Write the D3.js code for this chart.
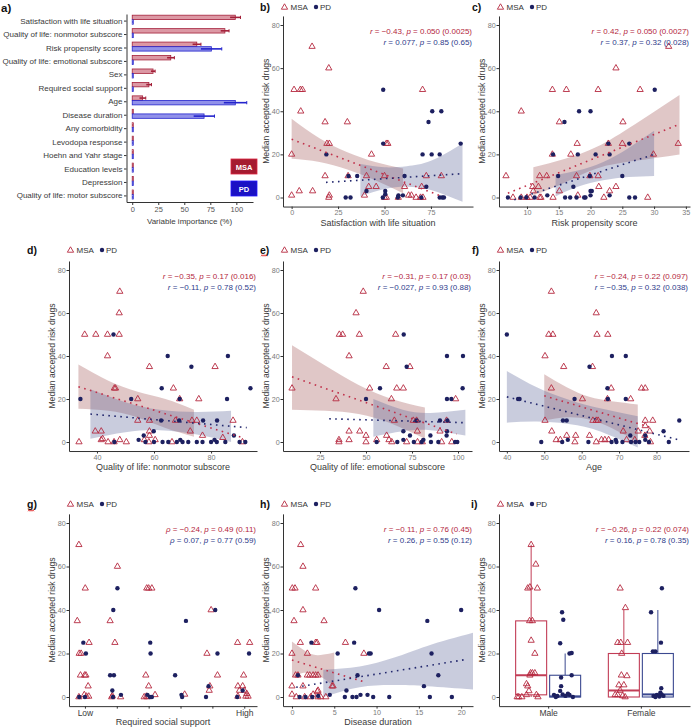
<!DOCTYPE html>
<html lang="en">
<head>
<meta charset="UTF-8">
<title>Accepted risk drugs: MSA vs PD</title>
<script src="https://cdn.jsdelivr.net/npm/d3@7"></script>
<style>
  body { margin: 0; background: #fff; }
  svg { display: block; font-family: 'Liberation Sans', Arial, sans-serif; }
  .axis .domain, .axis .tick line { stroke: #333; stroke-width: 1; }
  .axis .tick text { fill: #7a7a7a; font-size: 7.2px; }
  .axis.cat .tick text { fill: #3a3a3a; font-size: 8.5px; }
  .axis.imp .tick text { fill: #3a3a3a; font-size: 8px; }
  .xtitle, .ytitle { fill: #3a3a3a; font-size: 9px; }
  .ytitle { font-size: 8.6px; }
  .legend text { fill: #333; font-size: 8px; }
  .plabel { font-weight: bold; font-size: 10.5px; fill: #111; }
  .stat { font-size: 8px; }
</style>
</head>
<body>
<svg id="fig" width="691" height="728"></svg>
<script>
// ---- a) variable importance ----
const impVars = ['Satisfaction with life situation', 'Quality of life: nonmotor subscore', 'Risk propensity score',
  'Quality of life: emotional subscore', 'Sex', 'Required social support', 'Age', 'Disease duration',
  'Any comorbidity', 'Levodopa response', 'Hoehn and Yahr stage', 'Education levels', 'Depression',
  'Quality of life: motor subscore'];
const impMSA    = [99, 89, 62, 37, 20, 16, 10, 1, 1, 1, 1, 1, 1, 1];
const impMSAErr = [5, 4, 4, 3.5, 2, 2.5, 3, 0, 0, 0, 0, 0, 0, 0];
const impPD     = [1, 1, 76, 1, 1, 1, 99, 69, 1, 1, 1, 1, 1, 1];
const impPDErr  = [0, 0, 10, 0, 0, 0, 11, 10, 0, 0, 0, 0, 0, 0];

// ---- b) satisfaction with life situation ----
const satMSA = [[11,70],[20,60],[1.3,50],[4.7,50],[5.8,50],[70.5,50],[4.9,40],[18,35],[30,35],
  [19,25],[20.3,25],[51,25],[51.8,25],[0,20],[43,20],[18,10],[30.4,10],[40.3,10],[50,10],[72.5,10],[80.6,10],
  [41.5,5],[45.5,5],[60.8,5],[70,5],[4.1,3],[11.3,3],[0,1],[20.3,1],[39.2,1],[63,1],[64.5,1],
  [20,0],[50,0],[57.4,0],[67,0],[69.4,0],[70.7,0],[51,0]];
const satPD = [[49.3,50],[49.3,25],[73.7,35],[75.7,40],[80.6,40],[70.5,20],[75.4,20],[79.7,20],[91,25],[18.7,20],
  [30.6,10],[35.3,10],[60.8,10],[72.5,5],[40.3,3],[50.4,3],[29.1,0],[31.7,0],[49.1,0],[50.4,1.5],[57.2,0],
  [59.9,1],[79.7,0],[81.1,0],[82,0],[69.8,0],[57.5,1]];
const satMSALine = [[0,27],[81,0.5]];
const satPDLine  = [[18.5,7],[91,11]];
const satMSABand = [[0,18,36.5],[15,16.5,27.5],[30,13,21],[45,8,16.5],[60,2,13.5]];
const satPDBand  = [[37,0.5,15.5],[50,4,14],[62,5,14.5],[75,3.5,17],[92,-2,25]];
const satStats = [['r','−0.43','0.050','0.0025'], ['r','0.077','0.85','0.65']];

// ---- c) risk propensity score ----
const riskMSA = [[32.3,70],[24,60],[14,50],[16.2,50],[21.2,50],[27.8,50],[9.1,40],[15.1,35],[25.1,35],
  [17.9,25],[22.8,25],[25,25],[33.8,25],[14,20],[16.9,20],[29.9,20],[6.7,10],[12,10],[13.1,10],[17.8,10],
  [19.9,10],[21.2,10],[10.9,5],[11.8,5],[21.3,5],[24,5],[15.1,3],[23,3],[11,3],
  [10,0],[7.8,0],[9.1,0],[12,0],[12.2,0],[14.1,0],[18,1],[22.1,0],[29,0],[10.5,0]];
const riskPD = [[30.1,50],[18.2,40],[20,40],[15.9,35],[14.1,20],[18,20],[20.8,20],[23,20],[22.8,25],[26.1,25],
  [14.9,10],[19.9,10],[25,10],[17.3,5],[20,3],[20.2,3],[7,0],[9.9,0],[13.2,1],[11.2,0],[16,0],[16.8,0],
  [17.8,0],[19,0],[19.2,0],[20,1],[23,1],[26.1,0],[27,0],[9,0]];
const riskMSALine = [[7,2],[34,34]];
const riskPDLine  = [[8,-1],[30,20]];
const riskMSABand = [[11,1,14],[16,7,18],[21,13.5,23.5],[27,17,34],[34,20,47.5]];
const riskPDBand  = [[14.5,0.5,10.5],[18,5,12.5],[22,8,16.5],[26,9.5,23],[30,10,31]];
const riskStats = [['r','0.42','0.050','0.0027'], ['r','0.37','0.32','0.028']];

// ---- d) quality of life: nonmotor subscore ----
const nmMSA = [[48,70],[47.8,60],[35.7,50],[39.6,50],[43.7,50],[47.8,50],[43.7,40],[58.4,35],[81.4,35],
  [46.1,25],[46.5,25],[66.8,25],[54.3,20],[69,20],[75.7,20],[54.3,10],[58.4,10],[67.5,10],[73.3,10],[75,10],
  [87.7,10],[39.4,5],[41.5,5],[58.4,5],[72.7,5],[58.4,3],[77,3],[41.5,1],[42,1.5],[48,1],[56.6,1],[60.4,1],
  [84.1,2],[33.7,0],[43.9,0],[46,0],[50.3,0],[58.2,0],[66.3,0],[91,0]];
const nmPD = [[45.8,50],[64.8,40],[85.9,40],[73.1,35],[62.7,25],[93.8,25],[69,20],[85.6,20],[34.2,20],[52,20],
  [59.9,5],[77.2,10],[82.1,10],[68.8,10],[62.5,10],[56.4,3],[88,3],[46.1,0],[54.6,1],[57,0],[60,0],[63,0],
  [65,0],[68,0],[70,0],[72,0],[75,0],[77,0],[80,0],[82,0],[85,0],[90,0],[69.2,1],[81.2,1],[92,0]];
const nmMSALine = [[33.5,25.7],[91,2]];
const nmPDLine  = [[37.7,13],[92.5,6.7]];
const nmMSABand = [[33.5,15.5,36],[44,14.5,28.5],[54,11.5,23.5],[64,6.5,20],[74,2.5,15]];
const nmPDBand  = [[37.7,1.5,24.5],[50,4.5,18.5],[62,5.5,15],[75,3.5,14],[87,0,14.5]];
const nmStats = [['r','−0.35','0.17','0.016'], ['r','−0.11','0.78','0.52']];

// ---- e) quality of life: emotional subscore ----
const emMSA = [[48.5,70],[44.6,60],[35.5,50],[37.3,50],[46.4,50],[66.1,50],[40.8,40],[61,35],[73.9,35],
  [9.8,25],[52,25],[66.7,25],[70.3,25],[33.7,20],[63.8,20],[98.7,20],[65.4,10],[75.7,10],[77.5,10],[93.8,10],
  [77.9,5],[40.8,5],[46.6,5],[90.2,5],[50,3],[61.2,3],[35.3,1],[40.8,1],[55.8,1],[62.5,1],
  [35.3,0],[50,0],[64,0],[72.1,0],[80.6,0],[91.1,0],[96.6,0],[78,0]];
const emPD = [[70.5,50],[72.1,35],[102.7,40],[94,40],[50,20],[57.6,25],[96.4,20],[94,20],[102.5,25],
  [77.5,10],[90.2,10],[94.2,10],[70.3,5],[94,5],[85,3],[73.9,3],[93.8,3],[55.8,0],[70.3,1],[80.3,0],
  [85.3,0],[89.3,0],[98.4,0],[99.6,0],[81.2,1],[67,0],[76,0]];
const emMSALine = [[9.8,30.3],[99.3,3.7]];
const emPDLine  = [[30,10.8],[103,9]];
const emMSABand = [[9.8,15,45],[28,14.5,35.5],[46,13,26.5],[64,8.5,20],[82,1.5,16]];
const emPDBand  = [[54,2.5,20],[70,5,15],[85,5.5,13.5],[104,3,15]];
const emStats = [['r','−0.31','0.17','0.03'], ['r','−0.027','0.93','0.88']];

// ---- f) age ----
const ageMSA = [[51.9,70],[63.9,60],[51.2,50],[52.3,50],[64.1,50],[67,50],[50.2,40],[55.2,35],[62.9,35],
  [67.9,25],[76,25],[77,25],[51.9,25],[60.2,20],[66.9,20],[73.1,20],[50.2,10],[63,10],[63.9,10],[64.4,10],
  [77,10],[79,10],[52,5],[71.1,5],[75.1,5],[78.2,5],[77,7.5],[58.4,3],[56,3],[62.1,3],[76.9,3],
  [54.3,1],[53.2,1],[65.3,1],[66.2,1],[67.2,1],[72,1],[74.2,1],[58.2,0],[63.9,0],[78.4,0]];
const agePD = [[40,50],[43,20],[43.4,20],[49.2,0],[55,10],[56,10],[54.8,0],[56.3,1],[58.1,20],[62.1,35],[61.8,0],
  [66.9,25],[67,20],[68.1,40],[71.8,40],[71.8,20],[69.1,1],[69.3,0],[70.9,0],[73,3],[73.2,0],[74.4,0],[75.4,0],
  [77,3],[77,1],[78,0],[81.9,5],[83.3,0],[86.1,10],[68,0]];
const ageMSALine = [[50,21.5],[79,6.5]];
const agePDLine  = [[40,21],[86,1]];
const ageMSABand = [[50,10,31.5],[56,11.5,25.5],[62,10.5,21],[68,6.5,19],[75,0,17.5]];
const agePDBand  = [[40,9,33],[48,9.5,25.5],[56,8.5,20],[64,5.5,16],[75,-2.5,12]];
const ageStats = [['r','−0.24','0.22','0.097'], ['r','−0.35','0.32','0.038']];

// ---- g) required social support (levels 1..6) ----
const socLevels = [1, 2, 3, 4, 5, 6];
const socLabels = ['Low', '', '', '', '', 'High'];
const socMSA = [[0.81,70],[1.01,50],[0.76,35],[0.82,20],[0.88,20],[1.13,25],[0.86,10],[0.99,10],[1.03,10],
  [1.1,5],[0.98,1],[1.05,0.3],[1.12,0.3],[0.81,0],[2.02,60],[1.79,35],[1.94,25],[1.84,0],[2.12,0],[1.86,0.5],
  [2.94,50],[3.0,50],[3.1,50],[2.91,10],[3.0,5],[2.86,0],[2.96,0],[3.2,1],[2.93,0.3],[4.13,1.2],
  [4.96,40],[4.83,20],[5.16,10],[4.9,3],[4.92,5],[5.79,25],[6.17,25],[5.98,10],[5.8,5],[5.95,5],[5.85,3],
  [6.0,3],[5.8,0.3],[6.05,0.3],[6.12,0.3],[6.08,1.5]];
const socPD = [[0.95,25],[1.03,20],[0.82,0],[1.0,0],[2.02,50],[1.89,40],[1.79,10],[1.91,10],[1.86,3],[1.88,0],
  [2.13,1],[3.05,25],[3.06,20],[2.96,1],[3.04,0],[3.1,0],[4.17,35],[3.83,10],[4.03,1],[4.05,0],
  [5.09,40],[5.16,20],[4.88,5],[4.8,0],[6.15,20],[5.78,0],[5.95,3]];
const socStats = [['ρ','−0.24','0.49','0.11'], ['ρ','0.07','0.77','0.59']];

// ---- h) disease duration ----
const durMSA = [[1.03,70],[1.3,60],[0.04,50],[0.36,50],[2.8,50],[1.3,40],[0.24,35],[3.79,35],
  [0.99,25],[2.8,25],[2.96,25],[6.32,25],[0,20],[1.82,20],[8.5,20],[0.43,10],[0.71,10],[1.82,10],[2.1,10],
  [2.5,10],[2.8,10],[3.08,10],[0,5],[1.3,5],[4.74,5],[4.86,5],[3.08,3],[3,2.5],[0,1.2],[2.5,1.2],
  [0.51,0],[1.5,0],[2.2,0],[3.08,0],[3.4,0],[4,0]];
const durPD = [[7.5,50],[10.3,40],[16,35],[20,40],[2.3,25],[7.35,25],[5.4,20],[9.1,20],[9.3,20],[16.5,20],
  [0.71,10],[7.75,10],[17.3,10],[15.6,5],[6.44,3],[4.47,1],[0.9,0],[1.6,0],[2.4,0],[6.25,0],[7.15,0],
  [7.63,0],[8.1,1],[8.93,1],[9.6,0],[11.5,0],[16.3,0],[18.9,0],[3.1,0.5]];
const durMSALine = [[0,17],[8.5,7]];
const durPDLine  = [[0.5,4.5],[20.5,17.2]];
const durMSABand = [[0,9,25.5],[1.25,11,22],[2.5,10.5,19.5],[3.75,8.5,19.5],[5,4.5,20.5]];
const durPDBand  = [[3.7,0,12.5],[8,4.5,14],[12,5.5,18],[16,5,23.5],[21.4,3.5,29.5]];
const durStats = [['r','−0.11','0.76','0.45'], ['r','0.26','0.55','0.12']];

// ---- i) sex (boxplots: min, q1, median, q3, max) ----
const sexGroups = ['Male', 'Female'];
const sexBoxMSA = [[0, 1, 10, 35, 70], [0, 0, 3, 20, 40]];
const sexBoxPD  = [[0, 0, 0.3, 10, 20], [0, 0, 1.2, 20, 40]];
// [group, jitter (share of box width), value]
const sexMSA = [['Male',0,70],['Male',0.15,61],['Male',-0.11,50],['Male',-0.04,50.5],['Male',0.2,50],
  ['Male',0.04,35],['Male',-0.05,35],['Male',0,26],['Male',0.12,20],['Male',-0.02,11],['Male',0.04,11],
  ['Male',0.12,11],['Male',-0.04,10],['Male',-0.15,6],['Male',-0.11,5],['Male',-0.07,2.8],['Male',-0.45,0],
  ['Male',-0.4,0],['Male',-0.3,0],['Male',-0.15,1],['Male',0.17,1],['Male',0.22,0],
  ['Female',-0.12,50],['Female',0.05,41],['Female',-0.2,25],['Female',-0.1,25],['Female',0.12,25],
  ['Female',-0.07,20],['Female',-0.08,10],['Female',0.1,9.7],['Female',-0.16,5.5],['Female',0,5.5],
  ['Female',-0.12,3],['Female',-0.28,1],['Female',-0.2,1],['Female',-0.04,0.5],['Female',0.04,0]];
const sexPD = [['Male',-0.1,39],['Male',-0.06,35.5],['Male',-0.16,24.7],['Male',0.14,20],['Male',0.21,20.2],
  ['Male',0.21,10],['Male',-0.13,9],['Male',-0.13,5],['Male',-0.16,2.8],['Male',-0.36,1],['Male',-0.25,0.5],
  ['Male',-0.08,1.2],['Male',0.01,0.5],['Male',0.09,1.5],['Male',0.14,1],['Male',-0.3,0],['Male',0.25,0],
  ['Female',0.13,50],['Female',-0.22,39],['Female',0.1,25],['Female',-0.16,21],['Female',-0.08,21],
  ['Female',0.11,4],['Female',0.08,2],['Female',-0.14,0.5],['Female',-0.03,1],['Female',0.05,0.2],
  ['Female',0.12,1.2],['Female',0.18,0.5],['Female',-0.08,0]];
const sexStats = [['r','−0.26','0.22','0.074'], ['r','0.16','0.78','0.35']];

const MSA = '#b5293f', PD = '#1d2060';
const MSA_TXT = '#b3263d', PD_TXT = '#2e3b8a';
const svg = d3.select('#fig');

// ================= panel a =================
(function () {
  const x = d3.scaleLinear().domain([-5.5, 116]).range([126.5, 253]);
  const y = d3.scalePoint().domain(impVars).range([14, 202]).padding(0.49);
  const g = svg.append('g');
  const series = [
    { vals: impMSA, err: impMSAErr, dy: -5.4, fill: '#dc98a4', stroke: '#a31f38' },
    { vals: impPD, err: impPDErr, dy: -0.8, fill: '#9191ea', stroke: '#2424cc' }
  ];
  series.forEach(s => {
    const rows = impVars.map((v, i) => ({ v, val: s.vals[i], err: s.err[i] }));
    g.append('g').selectAll('rect').data(rows).join('rect')
      .attr('x', x(0)).attr('y', d => y(d.v) + s.dy)
      .attr('width', d => x(d.val) - x(0)).attr('height', 4.4)
      .attr('fill', s.fill).attr('stroke', s.stroke).attr('stroke-width', 0.8);
    const eb = g.append('g').attr('stroke', s.stroke).selectAll('g').data(rows.filter(d => d.err > 0)).join('g');
    eb.append('line').attr('stroke-width', 1.6)
      .attr('x1', d => x(d.val - d.err)).attr('x2', d => x(d.val + d.err))
      .attr('y1', d => y(d.v) + s.dy + 2.2).attr('y2', d => y(d.v) + s.dy + 2.2);
    eb.append('line').attr('stroke-width', 1)
      .attr('x1', d => x(d.val + d.err)).attr('x2', d => x(d.val + d.err))
      .attr('y1', d => y(d.v) + s.dy + 0.6).attr('y2', d => y(d.v) + s.dy + 3.8);
  });
  g.append('g').attr('class', 'axis').attr('transform', 'translate(0,202)')
    .call(d3.axisBottom(x).tickValues([0, 25, 50, 75, 100]).tickSize(3).tickSizeOuter(0).tickPadding(2))
    .selectAll('.tick text').style('font-size', '7.5px').style('fill', '#555');
  g.append('g').attr('class', 'axis imp').attr('transform', 'translate(126.5,0)')
    .call(d3.axisLeft(y).tickSize(2.5).tickSizeOuter(0).tickPadding(1.5));
  g.append('text').attr('class', 'xtitle').attr('x', 189.5).attr('y', 224)
    .attr('text-anchor', 'middle').style('font-size', '8px').text('Variable importance (%)');
  g.append('text').attr('class', 'plabel').attr('x', 1).attr('y', 12).style('font-size', '11.5px').text('a)');
  const leg = [['MSA', '#a51b30', 159], ['PD', '#1b12c4', 181]];
  leg.forEach(([t, c, yy]) => {
    g.append('rect').attr('x', 231).attr('y', yy).attr('width', 26).attr('height', 15)
      .attr('fill', c).attr('stroke', d3.color(c).brighter(0.8)).attr('stroke-width', 0.8);
    g.append('text').attr('x', 244).attr('y', yy + 10.5).attr('text-anchor', 'middle')
      .attr('fill', '#fff').style('font-size', '7.5px').style('font-weight', 'bold').text(t);
  });
})();

// ================= shared frame =================
function frame(p, x, y) {
  const g = svg.append('g');
  const yb = y.range()[0], yt = y.range()[1];
  const xAxis = d3.axisBottom(x).tickSize(2.5).tickSizeOuter(0).tickPadding(1);
  if (p.ticks) xAxis.tickValues(p.ticks);
  if (p.tickFormat) xAxis.tickFormat(p.tickFormat);
  g.append('g').attr('class', 'axis' + (p.catAxis ? ' cat' : '')).attr('transform', `translate(0,${yb})`).call(xAxis);
  g.append('g').attr('class', 'axis').attr('transform', `translate(${p.left},0)`)
    .call(d3.axisLeft(y).tickValues([0, 20, 40, 60, 80]).tickSize(2.5).tickSizeOuter(0).tickPadding(0.8));
  g.append('text').attr('class', 'xtitle').attr('text-anchor', 'middle')
    .attr('x', (p.left + p.right) / 2).attr('y', yb + 19).text(p.xTitle);
  g.append('text').attr('class', 'ytitle').attr('text-anchor', 'middle')
    .attr('transform', `translate(${p.left - 14},${(yb + yt) / 2}) rotate(-90)`).text('Median accepted risk drugs');
  // panel label + legend
  g.append('text').attr('class', 'plabel').attr('x', p.labelX).attr('y', p.legendY + 4).text(p.id + ')');
  if (p.squiggle) {
    const sx = p.labelX + 1, sy = p.legendY + (p.id === 'g' ? 6.5 : 5.5);
    const pts = d3.range(0, 7).map(i => [sx + i, sy + (i % 2 ? -0.8 : 0.8)]);
    g.append('path').attr('d', d3.line()(pts)).attr('fill', 'none').attr('stroke', '#e02020').attr('stroke-width', 0.7);
  }
  const lg = g.append('g').attr('class', 'legend').attr('transform', `translate(${p.left + 1.5},${p.legendY})`);
  lg.append('path').attr('d', d3.symbol(d3.symbolTriangle, 17)()).attr('transform', 'translate(0,0.4)')
    .attr('fill', 'none').attr('stroke', MSA).attr('stroke-width', 0.9);
  lg.append('text').attr('x', 6).attr('y', 2.9).text('MSA');
  lg.append('circle').attr('cx', 31.5).attr('cy', 0).attr('r', 2.2).attr('fill', PD);
  lg.append('text').attr('x', 35.5).attr('y', 2.9).text('PD');
  // correlation text
  [[p.stats[0], MSA_TXT, 9], [p.stats[1], PD_TXT, 20]].forEach(([s, c, dy]) => {
    const t = g.append('text').attr('class', 'stat').attr('text-anchor', 'end').attr('fill', c)
      .attr('x', p.right - 1).attr('y', p.y80 + dy);
    t.append('tspan').style('font-style', 'italic').text(s[0]);
    t.append('tspan').text(` = ${s[1]}, `);
    t.append('tspan').style('font-style', 'italic').text('p');
    t.append('tspan').text(` = ${s[2]} (${s[3]})`);
  });
}

function yScale(p) {
  const k = (p.y0 - p.y80) / 80;
  return d3.scaleLinear().domain([-4.2, 84.2]).range([p.y0 + 4.2 * k, p.y80 - 4.2 * k]);
}

function clipFor(p, y) {
  const id = 'clip-' + p.id;
  svg.append('clipPath').attr('id', id).append('rect')
    .attr('x', p.left).attr('y', y.range()[1])
    .attr('width', p.right - p.left).attr('height', y.range()[0] - y.range()[1]);
  return svg.append('g').attr('clip-path', `url(#${id})`);
}

function drawPoints(g, x, y, msa, pd) {
  g.append('g').selectAll('path').data(msa).join('path')
    .attr('d', d3.symbol(d3.symbolTriangle, 17)())
    .attr('transform', d => `translate(${x(d[0])},${y(d[1])})`)
    .attr('fill', 'none').attr('stroke', MSA).attr('stroke-width', 0.9);
  g.append('g').selectAll('circle').data(pd).join('circle')
    .attr('cx', d => x(d[0])).attr('cy', d => y(d[1])).attr('r', 2.2).attr('fill', PD);
}

function drawScatter(p) {
  const y = yScale(p);
  const x = d3.scaleLinear().domain(p.xDomain).range([p.left, p.right]);
  const g = clipFor(p, y);
  if (p.msaBand) {
    const area = d3.area().x(d => x(d[0])).y0(d => y(d[1])).y1(d => y(d[2])).curve(d3.curveNatural);
    g.append('path').attr('d', area(p.msaBand)).attr('fill', '#a86464').attr('fill-opacity', 0.36);
    g.append('path').attr('d', area(p.pdBand)).attr('fill', '#5a6499').attr('fill-opacity', 0.33);
  }
  drawPoints(g, x, y, p.msa, p.pd);
  if (p.msaLine) {
    const line = d3.line().x(d => x(d[0])).y(d => y(d[1]));
    g.append('path').attr('d', line(p.msaLine)).attr('fill', 'none').attr('stroke', '#c0304a')
      .attr('stroke-width', 1.6).attr('stroke-dasharray', '1.6 4.4');
    g.append('path').attr('d', line(p.pdLine)).attr('fill', 'none').attr('stroke', '#23286e')
      .attr('stroke-width', 1.6).attr('stroke-dasharray', '1.6 4.4');
  }
  frame(p, x, y);
}

const row1 = { y0: 197.5, y80: 25, legendY: 7 };
const row2 = { y0: 442, y80: 270, legendY: 250 };
const row3 = { y0: 697, y80: 523, legendY: 504 };

const scatterPanels = [
  { ...row1, id: 'b', left: 283, right: 473, labelX: 260, xDomain: [-4.65, 97.65], ticks: [0, 25, 50, 75],
    xTitle: 'Satisfaction with life situation', msa: satMSA, pd: satPD, msaLine: satMSALine, pdLine: satPDLine,
    msaBand: satMSABand, pdBand: satPDBand, stats: satStats },
  { ...row1, id: 'c', left: 499, right: 690, labelX: 472, xDomain: [5.6, 35.65], ticks: [10, 15, 20, 25, 30, 35],
    xTitle: 'Risk propensity score', msa: riskMSA, pd: riskPD, msaLine: riskMSALine, pdLine: riskPDLine,
    msaBand: riskMSABand, pdBand: riskPDBand, stats: riskStats },
  { ...row2, id: 'd', left: 69, right: 257, labelX: 27, xDomain: [30.2, 96.1], ticks: [40, 60, 80],
    xTitle: 'Quality of life: nonmotor subscore', msa: nmMSA, pd: nmPD, msaLine: nmMSALine, pdLine: nmPDLine,
    msaBand: nmMSABand, pdBand: nmPDBand, stats: nmStats },
  { ...row2, id: 'e', left: 283, right: 472, labelX: 260, xDomain: [4.9, 107.6], ticks: [25, 50, 75, 100],
    xTitle: 'Quality of life: emotional subscore', msa: emMSA, pd: emPD, msaLine: emMSALine, pdLine: emPDLine,
    msaBand: emMSABand, pdBand: emPDBand, stats: emStats, squiggle: true },
  { ...row2, id: 'f', left: 499, right: 689, labelX: 472, xDomain: [37.9, 88.7], ticks: [40, 50, 60, 70, 80],
    xTitle: 'Age', msa: ageMSA, pd: agePD, msaLine: ageMSALine, pdLine: agePDLine,
    msaBand: ageMSABand, pdBand: agePDBand, stats: ageStats },
  { ...row3, id: 'g', left: 69, right: 257, labelX: 27, xDomain: [0.5, 6.4], ticks: socLevels,
    tickFormat: d => socLabels[socLevels.indexOf(d)], catAxis: true,
    xTitle: 'Required social support', msa: socMSA, pd: socPD, stats: socStats, squiggle: true },
  { ...row3, id: 'h', left: 283, right: 473, labelX: 260, xDomain: [-1.06, 21.4], ticks: [0, 5, 10, 15, 20],
    xTitle: 'Disease duration', msa: durMSA, pd: durPD, msaLine: durMSALine, pdLine: durPDLine,
    msaBand: durMSABand, pdBand: durPDBand, stats: durStats }
];
scatterPanels.forEach(drawScatter);

// ================= panel i (boxplots) =================
(function () {
  const p = { ...row3, id: 'i', left: 499, right: 690, labelX: 471, catAxis: true, xTitle: '', stats: sexStats };
  const y = yScale(p);
  const x = d3.scalePoint().domain(sexGroups).range([p.left, p.right]).padding(0.53);
  const dodge = 17, bw = 31;
  const g = svg.append('g');
  const sets = [
    { box: sexBoxMSA, off: -dodge, col: '#c23d56' },
    { box: sexBoxPD, off: dodge, col: '#3b4990' }
  ];
  sets.forEach(s => {
    sexGroups.forEach((grp, i) => {
      const [mn, q1, md, q3, mx] = s.box[i];
      const cx = x(grp) + s.off;
      const bg = g.append('g').attr('stroke', s.col).attr('fill', 'none');
      bg.append('line').attr('x1', cx).attr('x2', cx).attr('y1', y(q3)).attr('y2', y(mx)).attr('stroke-width', 1);
      bg.append('line').attr('x1', cx).attr('x2', cx).attr('y1', y(q1)).attr('y2', y(mn)).attr('stroke-width', 1);
      bg.append('rect').attr('x', cx - bw / 2).attr('width', bw).attr('y', y(q3)).attr('height', y(q1) - y(q3))
        .attr('fill', '#fff').attr('stroke-width', 1.1);
      bg.append('line').attr('x1', cx - bw / 2).attr('x2', cx + bw / 2).attr('y1', y(md)).attr('y2', y(md))
        .attr('stroke-width', 2);
    });
  });
  const px = (d, off) => x(d[0]) + off + d[1] * bw;
  g.append('g').selectAll('path').data(sexMSA).join('path')
    .attr('d', d3.symbol(d3.symbolTriangle, 17)())
    .attr('transform', d => `translate(${px(d, -dodge)},${y(d[2])})`)
    .attr('fill', 'none').attr('stroke', MSA).attr('stroke-width', 0.9);
  g.append('g').selectAll('circle').data(sexPD).join('circle')
    .attr('cx', d => px(d, dodge)).attr('cy', d => y(d[2])).attr('r', 2.2).attr('fill', PD);
  frame(p, x, y);
})();
</script>
</body>
</html>
